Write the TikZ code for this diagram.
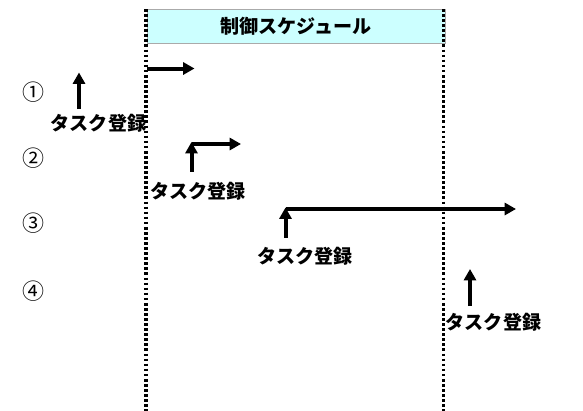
\documentclass[tikz,border=0pt]{standalone}
\usepackage{fontspec}
\setmainfont{Noto Sans CJK JP}
\usetikzlibrary{arrows.meta}

\definecolor{schedcyan}{RGB}{204,255,255}
\definecolor{schedgray}{RGB}{170,170,170}

\tikzset{every picture/.style={line width=0.75pt}}
\tikzset{
  regtext/.style={inner sep=0.75pt, font=\fontsize{14.3pt}{16pt}\selectfont\bfseries},
  numtext/.style={inner sep=0.75pt, font=\fontsize{16.5pt}{18pt}\selectfont},
  taskarrow/.style={line width=3pt, -{Triangle[length=8.5pt,width=9pt]}},
  boundline/.style={line width=2.5pt, dash pattern={on 2pt off 1.8pt}}
}

\begin{document}
\begin{tikzpicture}[x=0.75pt,y=0.75pt,yscale=-1,xscale=1]
\useasboundingbox (0,0) rectangle (583,411);

% Header Node
\node (sched) [draw=schedgray, fill=schedcyan, line width=0.6pt, minimum width=223.5pt, minimum height=25.5pt, inner sep=0pt, font=\fontsize{14.3pt}{16pt}\selectfont\bfseries] at (296,26.3) {制御スケジュール};

% Boundary Coordinates
\coordinate (ltop) at (146,9);
\coordinate (lbot) at (146,411);
\coordinate (rtop) at (443.5,9);
\coordinate (rbot) at (443.5,411);

%Straight Lines (boundaries)
\draw [boundline] (ltop) -- (lbot);
\draw [boundline] (rtop) -- (rbot);

% Text Node (numbers)
\node (n1) [numtext] at (33,92) {①};
\node (n2) [numtext] at (33,158) {②};
\node (n3) [numtext] at (33,223.5) {③};
\node (n4) [numtext] at (33,291) {④};

% Text Node (registration)
\node (reg1) [regtext] at (98.5,123) {タスク登録};
\node (reg2) [regtext] at (198,191) {タスク登録};
\node (reg3) [regtext] at (305,256) {タスク登録};
\node (reg4) [regtext] at (493.5,322.5) {タスク登録};

% Arrow Coordinates
\coordinate (up1s) at (79,109);
\coordinate (up1e) at (79,72.5);
\coordinate (up2s) at (191.5,171.5);
\coordinate (up2e) at (191.5,142);
\coordinate (up3s) at (285.5,237.5);
\coordinate (up3e) at (285.5,207.5);
\coordinate (up4s) at (470,306);
\coordinate (up4e) at (470,269);
\coordinate (run1s) at (147,68.5);
\coordinate (run1e) at (194.5,68.5);
\coordinate (run2s) at (191.5,144);
\coordinate (run2e) at (241,144);
\coordinate (run3s) at (285.5,209);
\coordinate (run3e) at (516,209);

%Straight Lines (registration)
\draw [taskarrow] (up1s) -- (up1e);
\draw [taskarrow] (up2s) -- (up2e);
\draw [taskarrow] (up3s) -- (up3e);
\draw [taskarrow] (up4s) -- (up4e);

%Straight Lines (execution)
\draw [taskarrow] (run1s) -- (run1e);
\draw [taskarrow] (run2s) -- (run2e);
\draw [taskarrow] (run3s) -- (run3e);

\end{tikzpicture}
\end{document}
